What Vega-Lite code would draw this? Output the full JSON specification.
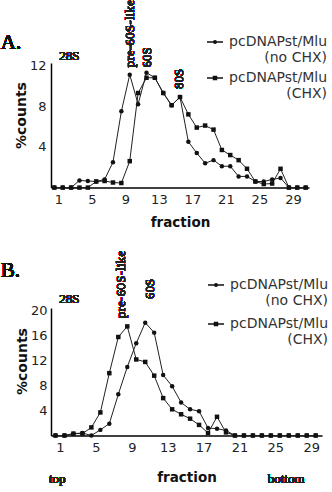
{
  "$schema": "https://vega.github.io/schema/vega-lite/v6.json",
  "padding": {"left": 0, "top": 0, "right": 0, "bottom": 0},
  "spacing": 20,
  "resolve": {"scale": {"shape": "independent"}, "legend": {"shape": "independent"}},
  "config": {
    "view": {"stroke": null},
    "axis": {"domainColor": "#000", "domainWidth": 1.5, "ticks": false, "grid": false, "labelFont": "DejaVu Sans", "labelFontSize": 13, "labelColor": "#222", "titleFont": "DejaVu Sans", "titleFontWeight": "bold", "titleColor": "#111"},
    "legend": {"labelFont": "DejaVu Sans", "labelFontSize": 14, "labelColor": "#333"}
  },
  "datasets": {
    "A": [
      {"fraction": 1, "pct": 0, "series": "pcDNAPst/Mlu (no CHX)"},
      {"fraction": 2, "pct": 0, "series": "pcDNAPst/Mlu (no CHX)"},
      {"fraction": 3, "pct": 0, "series": "pcDNAPst/Mlu (no CHX)"},
      {"fraction": 4, "pct": 0.7, "series": "pcDNAPst/Mlu (no CHX)"},
      {"fraction": 5, "pct": 0.65, "series": "pcDNAPst/Mlu (no CHX)"},
      {"fraction": 6, "pct": 0.6, "series": "pcDNAPst/Mlu (no CHX)"},
      {"fraction": 7, "pct": 0.8, "series": "pcDNAPst/Mlu (no CHX)"},
      {"fraction": 8, "pct": 2.5, "series": "pcDNAPst/Mlu (no CHX)"},
      {"fraction": 9, "pct": 7.5, "series": "pcDNAPst/Mlu (no CHX)"},
      {"fraction": 10, "pct": 11.1, "series": "pcDNAPst/Mlu (no CHX)"},
      {"fraction": 11, "pct": 8.2, "series": "pcDNAPst/Mlu (no CHX)"},
      {"fraction": 12, "pct": 11.3, "series": "pcDNAPst/Mlu (no CHX)"},
      {"fraction": 13, "pct": 10.8, "series": "pcDNAPst/Mlu (no CHX)"},
      {"fraction": 14, "pct": 9.3, "series": "pcDNAPst/Mlu (no CHX)"},
      {"fraction": 15, "pct": 8.1, "series": "pcDNAPst/Mlu (no CHX)"},
      {"fraction": 16, "pct": 8.9, "series": "pcDNAPst/Mlu (no CHX)"},
      {"fraction": 17, "pct": 4.5, "series": "pcDNAPst/Mlu (no CHX)"},
      {"fraction": 18, "pct": 3.4, "series": "pcDNAPst/Mlu (no CHX)"},
      {"fraction": 19, "pct": 2.4, "series": "pcDNAPst/Mlu (no CHX)"},
      {"fraction": 20, "pct": 2.7, "series": "pcDNAPst/Mlu (no CHX)"},
      {"fraction": 21, "pct": 2.1, "series": "pcDNAPst/Mlu (no CHX)"},
      {"fraction": 22, "pct": 2.1, "series": "pcDNAPst/Mlu (no CHX)"},
      {"fraction": 23, "pct": 1.1, "series": "pcDNAPst/Mlu (no CHX)"},
      {"fraction": 24, "pct": 1.1, "series": "pcDNAPst/Mlu (no CHX)"},
      {"fraction": 25, "pct": 0.6, "series": "pcDNAPst/Mlu (no CHX)"},
      {"fraction": 26, "pct": 0.6, "series": "pcDNAPst/Mlu (no CHX)"},
      {"fraction": 27, "pct": 0.8, "series": "pcDNAPst/Mlu (no CHX)"},
      {"fraction": 28, "pct": 0.95, "series": "pcDNAPst/Mlu (no CHX)"},
      {"fraction": 29, "pct": 0, "series": "pcDNAPst/Mlu (no CHX)"},
      {"fraction": 30, "pct": 0, "series": "pcDNAPst/Mlu (no CHX)"},
      {"fraction": 31, "pct": 0, "series": "pcDNAPst/Mlu (no CHX)"},
      {"fraction": 1, "pct": 0, "series": "pcDNAPst/Mlu (CHX)"},
      {"fraction": 2, "pct": 0, "series": "pcDNAPst/Mlu (CHX)"},
      {"fraction": 3, "pct": 0, "series": "pcDNAPst/Mlu (CHX)"},
      {"fraction": 4, "pct": 0, "series": "pcDNAPst/Mlu (CHX)"},
      {"fraction": 5, "pct": 0, "series": "pcDNAPst/Mlu (CHX)"},
      {"fraction": 6, "pct": 0.6, "series": "pcDNAPst/Mlu (CHX)"},
      {"fraction": 7, "pct": 0.65, "series": "pcDNAPst/Mlu (CHX)"},
      {"fraction": 8, "pct": 0.5, "series": "pcDNAPst/Mlu (CHX)"},
      {"fraction": 9, "pct": 0.45, "series": "pcDNAPst/Mlu (CHX)"},
      {"fraction": 10, "pct": 2.6, "series": "pcDNAPst/Mlu (CHX)"},
      {"fraction": 11, "pct": 9.3, "series": "pcDNAPst/Mlu (CHX)"},
      {"fraction": 12, "pct": 10.8, "series": "pcDNAPst/Mlu (CHX)"},
      {"fraction": 13, "pct": 10.8, "series": "pcDNAPst/Mlu (CHX)"},
      {"fraction": 14, "pct": 9.3, "series": "pcDNAPst/Mlu (CHX)"},
      {"fraction": 15, "pct": 8.1, "series": "pcDNAPst/Mlu (CHX)"},
      {"fraction": 16, "pct": 8.9, "series": "pcDNAPst/Mlu (CHX)"},
      {"fraction": 17, "pct": 7.2, "series": "pcDNAPst/Mlu (CHX)"},
      {"fraction": 18, "pct": 5.9, "series": "pcDNAPst/Mlu (CHX)"},
      {"fraction": 19, "pct": 6.1, "series": "pcDNAPst/Mlu (CHX)"},
      {"fraction": 20, "pct": 5.7, "series": "pcDNAPst/Mlu (CHX)"},
      {"fraction": 21, "pct": 3.7, "series": "pcDNAPst/Mlu (CHX)"},
      {"fraction": 22, "pct": 3.2, "series": "pcDNAPst/Mlu (CHX)"},
      {"fraction": 23, "pct": 2.7, "series": "pcDNAPst/Mlu (CHX)"},
      {"fraction": 24, "pct": 1.85, "series": "pcDNAPst/Mlu (CHX)"},
      {"fraction": 25, "pct": 0.6, "series": "pcDNAPst/Mlu (CHX)"},
      {"fraction": 26, "pct": 0.35, "series": "pcDNAPst/Mlu (CHX)"},
      {"fraction": 27, "pct": 0.4, "series": "pcDNAPst/Mlu (CHX)"},
      {"fraction": 28, "pct": 1.85, "series": "pcDNAPst/Mlu (CHX)"},
      {"fraction": 29, "pct": 0, "series": "pcDNAPst/Mlu (CHX)"},
      {"fraction": 30, "pct": 0, "series": "pcDNAPst/Mlu (CHX)"},
      {"fraction": 31, "pct": 0, "series": "pcDNAPst/Mlu (CHX)"}
    ],
    "B": [
      {"fraction": 1, "pct": 0, "series": "pcDNAPst/Mlu (no CHX)"},
      {"fraction": 2, "pct": 0, "series": "pcDNAPst/Mlu (no CHX)"},
      {"fraction": 3, "pct": 0.3, "series": "pcDNAPst/Mlu (no CHX)"},
      {"fraction": 4, "pct": 0.4, "series": "pcDNAPst/Mlu (no CHX)"},
      {"fraction": 5, "pct": 0, "series": "pcDNAPst/Mlu (no CHX)"},
      {"fraction": 6, "pct": 0.9, "series": "pcDNAPst/Mlu (no CHX)"},
      {"fraction": 7, "pct": 1.9, "series": "pcDNAPst/Mlu (no CHX)"},
      {"fraction": 8, "pct": 6.6, "series": "pcDNAPst/Mlu (no CHX)"},
      {"fraction": 9, "pct": 11.0, "series": "pcDNAPst/Mlu (no CHX)"},
      {"fraction": 10, "pct": 14.8, "series": "pcDNAPst/Mlu (no CHX)"},
      {"fraction": 11, "pct": 18.1, "series": "pcDNAPst/Mlu (no CHX)"},
      {"fraction": 12, "pct": 16.5, "series": "pcDNAPst/Mlu (no CHX)"},
      {"fraction": 13, "pct": 9.7, "series": "pcDNAPst/Mlu (no CHX)"},
      {"fraction": 14, "pct": 7.9, "series": "pcDNAPst/Mlu (no CHX)"},
      {"fraction": 15, "pct": 5.3, "series": "pcDNAPst/Mlu (no CHX)"},
      {"fraction": 16, "pct": 4.2, "series": "pcDNAPst/Mlu (no CHX)"},
      {"fraction": 17, "pct": 3.9, "series": "pcDNAPst/Mlu (no CHX)"},
      {"fraction": 18, "pct": 1.2, "series": "pcDNAPst/Mlu (no CHX)"},
      {"fraction": 19, "pct": 1.1, "series": "pcDNAPst/Mlu (no CHX)"},
      {"fraction": 20, "pct": 0.8, "series": "pcDNAPst/Mlu (no CHX)"},
      {"fraction": 21, "pct": 0, "series": "pcDNAPst/Mlu (no CHX)"},
      {"fraction": 22, "pct": 0, "series": "pcDNAPst/Mlu (no CHX)"},
      {"fraction": 23, "pct": 0, "series": "pcDNAPst/Mlu (no CHX)"},
      {"fraction": 24, "pct": 0, "series": "pcDNAPst/Mlu (no CHX)"},
      {"fraction": 25, "pct": 0, "series": "pcDNAPst/Mlu (no CHX)"},
      {"fraction": 26, "pct": 0, "series": "pcDNAPst/Mlu (no CHX)"},
      {"fraction": 27, "pct": 0, "series": "pcDNAPst/Mlu (no CHX)"},
      {"fraction": 28, "pct": 0, "series": "pcDNAPst/Mlu (no CHX)"},
      {"fraction": 29, "pct": 0, "series": "pcDNAPst/Mlu (no CHX)"},
      {"fraction": 30, "pct": 0, "series": "pcDNAPst/Mlu (no CHX)"},
      {"fraction": 1, "pct": 0, "series": "pcDNAPst/Mlu (CHX)"},
      {"fraction": 2, "pct": 0, "series": "pcDNAPst/Mlu (CHX)"},
      {"fraction": 3, "pct": 0.3, "series": "pcDNAPst/Mlu (CHX)"},
      {"fraction": 4, "pct": 0.3, "series": "pcDNAPst/Mlu (CHX)"},
      {"fraction": 5, "pct": 1.3, "series": "pcDNAPst/Mlu (CHX)"},
      {"fraction": 6, "pct": 3.7, "series": "pcDNAPst/Mlu (CHX)"},
      {"fraction": 7, "pct": 10.0, "series": "pcDNAPst/Mlu (CHX)"},
      {"fraction": 8, "pct": 15.8, "series": "pcDNAPst/Mlu (CHX)"},
      {"fraction": 9, "pct": 17.5, "series": "pcDNAPst/Mlu (CHX)"},
      {"fraction": 10, "pct": 12.2, "series": "pcDNAPst/Mlu (CHX)"},
      {"fraction": 11, "pct": 11.8, "series": "pcDNAPst/Mlu (CHX)"},
      {"fraction": 12, "pct": 9.6, "series": "pcDNAPst/Mlu (CHX)"},
      {"fraction": 13, "pct": 6.0, "series": "pcDNAPst/Mlu (CHX)"},
      {"fraction": 14, "pct": 4.2, "series": "pcDNAPst/Mlu (CHX)"},
      {"fraction": 15, "pct": 3.4, "series": "pcDNAPst/Mlu (CHX)"},
      {"fraction": 16, "pct": 2.7, "series": "pcDNAPst/Mlu (CHX)"},
      {"fraction": 17, "pct": 1.7, "series": "pcDNAPst/Mlu (CHX)"},
      {"fraction": 18, "pct": 0.4, "series": "pcDNAPst/Mlu (CHX)"},
      {"fraction": 19, "pct": 3.0, "series": "pcDNAPst/Mlu (CHX)"},
      {"fraction": 20, "pct": 0.5, "series": "pcDNAPst/Mlu (CHX)"},
      {"fraction": 21, "pct": 0, "series": "pcDNAPst/Mlu (CHX)"},
      {"fraction": 22, "pct": 0, "series": "pcDNAPst/Mlu (CHX)"},
      {"fraction": 23, "pct": 0, "series": "pcDNAPst/Mlu (CHX)"},
      {"fraction": 24, "pct": 0, "series": "pcDNAPst/Mlu (CHX)"},
      {"fraction": 25, "pct": 0, "series": "pcDNAPst/Mlu (CHX)"},
      {"fraction": 26, "pct": 0, "series": "pcDNAPst/Mlu (CHX)"},
      {"fraction": 27, "pct": 0, "series": "pcDNAPst/Mlu (CHX)"},
      {"fraction": 28, "pct": 0, "series": "pcDNAPst/Mlu (CHX)"},
      {"fraction": 29, "pct": 0, "series": "pcDNAPst/Mlu (CHX)"},
      {"fraction": 30, "pct": 0, "series": "pcDNAPst/Mlu (CHX)"}
    ]
  },
  "vconcat": [
    {
      "width": 258,
      "height": 124.6,
      "data": {"name": "A"},
      "resolve": {"scale": {"shape": "independent"}, "legend": {"shape": "independent"}},
      "encoding": {
        "x": {"field": "fraction", "type": "quantitative", "scale": {"domain": [0.6, 31.4], "nice": false, "zero": false},
              "axis": {"values": [1, 5, 9, 13, 17, 21, 25, 29], "labelOffset": 4, "labelPadding": 6, "title": "fraction", "titleFontSize": 13.5, "titlePadding": 9}},
        "y": {"field": "pct", "type": "quantitative", "scale": {"domain": [0, 12.25], "nice": false},
              "axis": {"values": [4, 8, 12], "labelPadding": 5, "title": "%counts", "titleFontSize": 14, "titlePadding": 1, "titleY": 52}}
      },
      "layer": [
        {"mark": {"type": "line", "color": "#222", "strokeWidth": 1}, "encoding": {"detail": {"field": "series"}}},
        {"mark": {"type": "point", "filled": true, "color": "#111", "opacity": 1, "size": 20},
         "encoding": {
           "shape": {"field": "series", "type": "nominal", "scale": {"domain": ["pcDNAPst/Mlu (no CHX)", "pcDNAPst/Mlu (CHX)"], "range": ["circle", "square"]}, "legend": null}
         }},
        {"mark": {"type": "point", "filled": false, "color": "#111", "opacity": 0, "size": 20},
         "encoding": {
           "shape": {"field": "series", "type": "nominal", "scale": {"domain": ["pcDNAPst/Mlu (no CHX)", "pcDNAPst/Mlu (CHX)"], "range": ["M-1,0H1M-0.15,0A0.15,0.15,0,1,1,0.15,0A0.15,0.15,0,1,1,-0.15,0Z", "M-1,0H1M-0.18,-0.18H0.18V0.18H-0.18Z"]},
             "legend": {"title": null, "orient": "none", "legendX": 155, "legendY": -30, "rowPadding": 4, "symbolSize": 256, "symbolOpacity": 1, "symbolStrokeWidth": 1.6, "symbolStrokeColor": "#111", "symbolFillColor": "#111", "labelAlign": "right", "labelOffset": 103,
               "labelExpr": "[slice(datum.label, 0, indexof(datum.label, ' ')), slice(datum.label, indexof(datum.label, ' ') + 1)]"}}
         }},
        {"mark": {"type": "text", "text": "A.", "font": "Liberation Serif", "fontSize": 21, "align": "left", "baseline": "alphabetic", "color": "#111"},
         "encoding": {"x": {"datum": -5.4}, "y": {"datum": 13.6}}},
        {"mark": {"type": "text", "text": "28S", "font": "Liberation Serif", "fontSize": 13, "align": "center", "baseline": "alphabetic", "color": "#222"},
         "encoding": {"x": {"datum": 2.8}, "y": {"datum": 12.5}}},
        {"mark": {"type": "text", "text": "pre-60S-like", "font": "Liberation Serif", "fontSize": 13.5, "angle": 270, "align": "left", "baseline": "middle", "color": "#222"},
         "encoding": {"x": {"datum": 10}, "y": {"datum": 11.8}}},
        {"mark": {"type": "text", "text": "60S", "font": "Liberation Serif", "fontSize": 13, "angle": 270, "align": "left", "baseline": "middle", "color": "#222"},
         "encoding": {"x": {"datum": 12.1}, "y": {"datum": 11.8}}},
        {"mark": {"type": "text", "text": "80S", "font": "Liberation Serif", "fontSize": 13, "angle": 270, "align": "left", "baseline": "middle", "color": "#222"},
         "encoding": {"x": {"datum": 15.9}, "y": {"datum": 9.7}}}
      ]
    },
    {
      "width": 271,
      "height": 127.5,
      "data": {"name": "B"},
      "resolve": {"scale": {"shape": "independent"}, "legend": {"shape": "independent"}},
      "encoding": {
        "x": {"field": "fraction", "type": "quantitative", "scale": {"domain": [0.5, 30.7], "nice": false, "zero": false},
              "axis": {"values": [1, 5, 9, 13, 17, 21, 25, 29], "labelOffset": 4.5, "labelPadding": 6, "title": "fraction", "titleFontSize": 13.5, "titlePadding": 16}},
        "y": {"field": "pct", "type": "quantitative", "scale": {"domain": [0, 20.45], "nice": false},
              "axis": {"values": [4, 8, 12, 16, 20], "labelPadding": 4, "title": "%counts", "titleFontSize": 14, "titlePadding": 1, "titleY": 53}}
      },
      "layer": [
        {"mark": {"type": "line", "color": "#222", "strokeWidth": 1}, "encoding": {"detail": {"field": "series"}}},
        {"mark": {"type": "point", "filled": true, "color": "#111", "opacity": 1, "size": 20},
         "encoding": {
           "shape": {"field": "series", "type": "nominal", "scale": {"domain": ["pcDNAPst/Mlu (no CHX)", "pcDNAPst/Mlu (CHX)"], "range": ["circle", "square"]}, "legend": null}
         }},
        {"mark": {"type": "point", "filled": false, "color": "#111", "opacity": 0, "size": 20},
         "encoding": {
           "shape": {"field": "series", "type": "nominal", "scale": {"domain": ["pcDNAPst/Mlu (no CHX)", "pcDNAPst/Mlu (CHX)"], "range": ["M-1,0H1M-0.15,0A0.15,0.15,0,1,1,0.15,0A0.15,0.15,0,1,1,-0.15,0Z", "M-1,0H1M-0.18,-0.18H0.18V0.18H-0.18Z"]},
             "legend": {"title": null, "orient": "none", "legendX": 156, "legendY": -32, "rowPadding": 7, "symbolSize": 256, "symbolOpacity": 1, "symbolStrokeWidth": 1.6, "symbolStrokeColor": "#111", "symbolFillColor": "#111", "labelAlign": "right", "labelOffset": 103,
               "labelExpr": "[slice(datum.label, 0, indexof(datum.label, ' ')), slice(datum.label, indexof(datum.label, ' ') + 1)]"}}
         }},
        {"mark": {"type": "text", "text": "B.", "font": "Liberation Serif", "fontSize": 21, "align": "left", "baseline": "alphabetic", "color": "#111"},
         "encoding": {"x": {"datum": -5.1}, "y": {"datum": 25.5}}},
        {"mark": {"type": "text", "text": "28S", "font": "Liberation Serif", "fontSize": 13, "align": "center", "baseline": "alphabetic", "color": "#222"},
         "encoding": {"x": {"datum": 2.55}, "y": {"datum": 21.3}}},
        {"mark": {"type": "text", "text": "pre-60S-like", "font": "Liberation Serif", "fontSize": 13.5, "angle": 270, "align": "left", "baseline": "middle", "color": "#222"},
         "encoding": {"x": {"datum": 8.3}, "y": {"datum": 18.8}}},
        {"mark": {"type": "text", "text": "60S", "font": "Liberation Serif", "fontSize": 13, "angle": 270, "align": "left", "baseline": "middle", "color": "#222"},
         "encoding": {"x": {"datum": 11.55}, "y": {"datum": 21.9}}},
        {"mark": {"type": "text", "text": "top", "font": "Liberation Serif", "fontSize": 13, "align": "center", "baseline": "alphabetic", "color": "#222"},
         "encoding": {"x": {"datum": 1.2}, "y": {"datum": -7.6}}},
        {"mark": {"type": "text", "text": "bottom", "font": "Liberation Serif", "fontSize": 13, "align": "center", "baseline": "alphabetic", "color": "#222"},
         "encoding": {"x": {"datum": 26.7}, "y": {"datum": -7.6}}}
      ]
    }
  ]
}
